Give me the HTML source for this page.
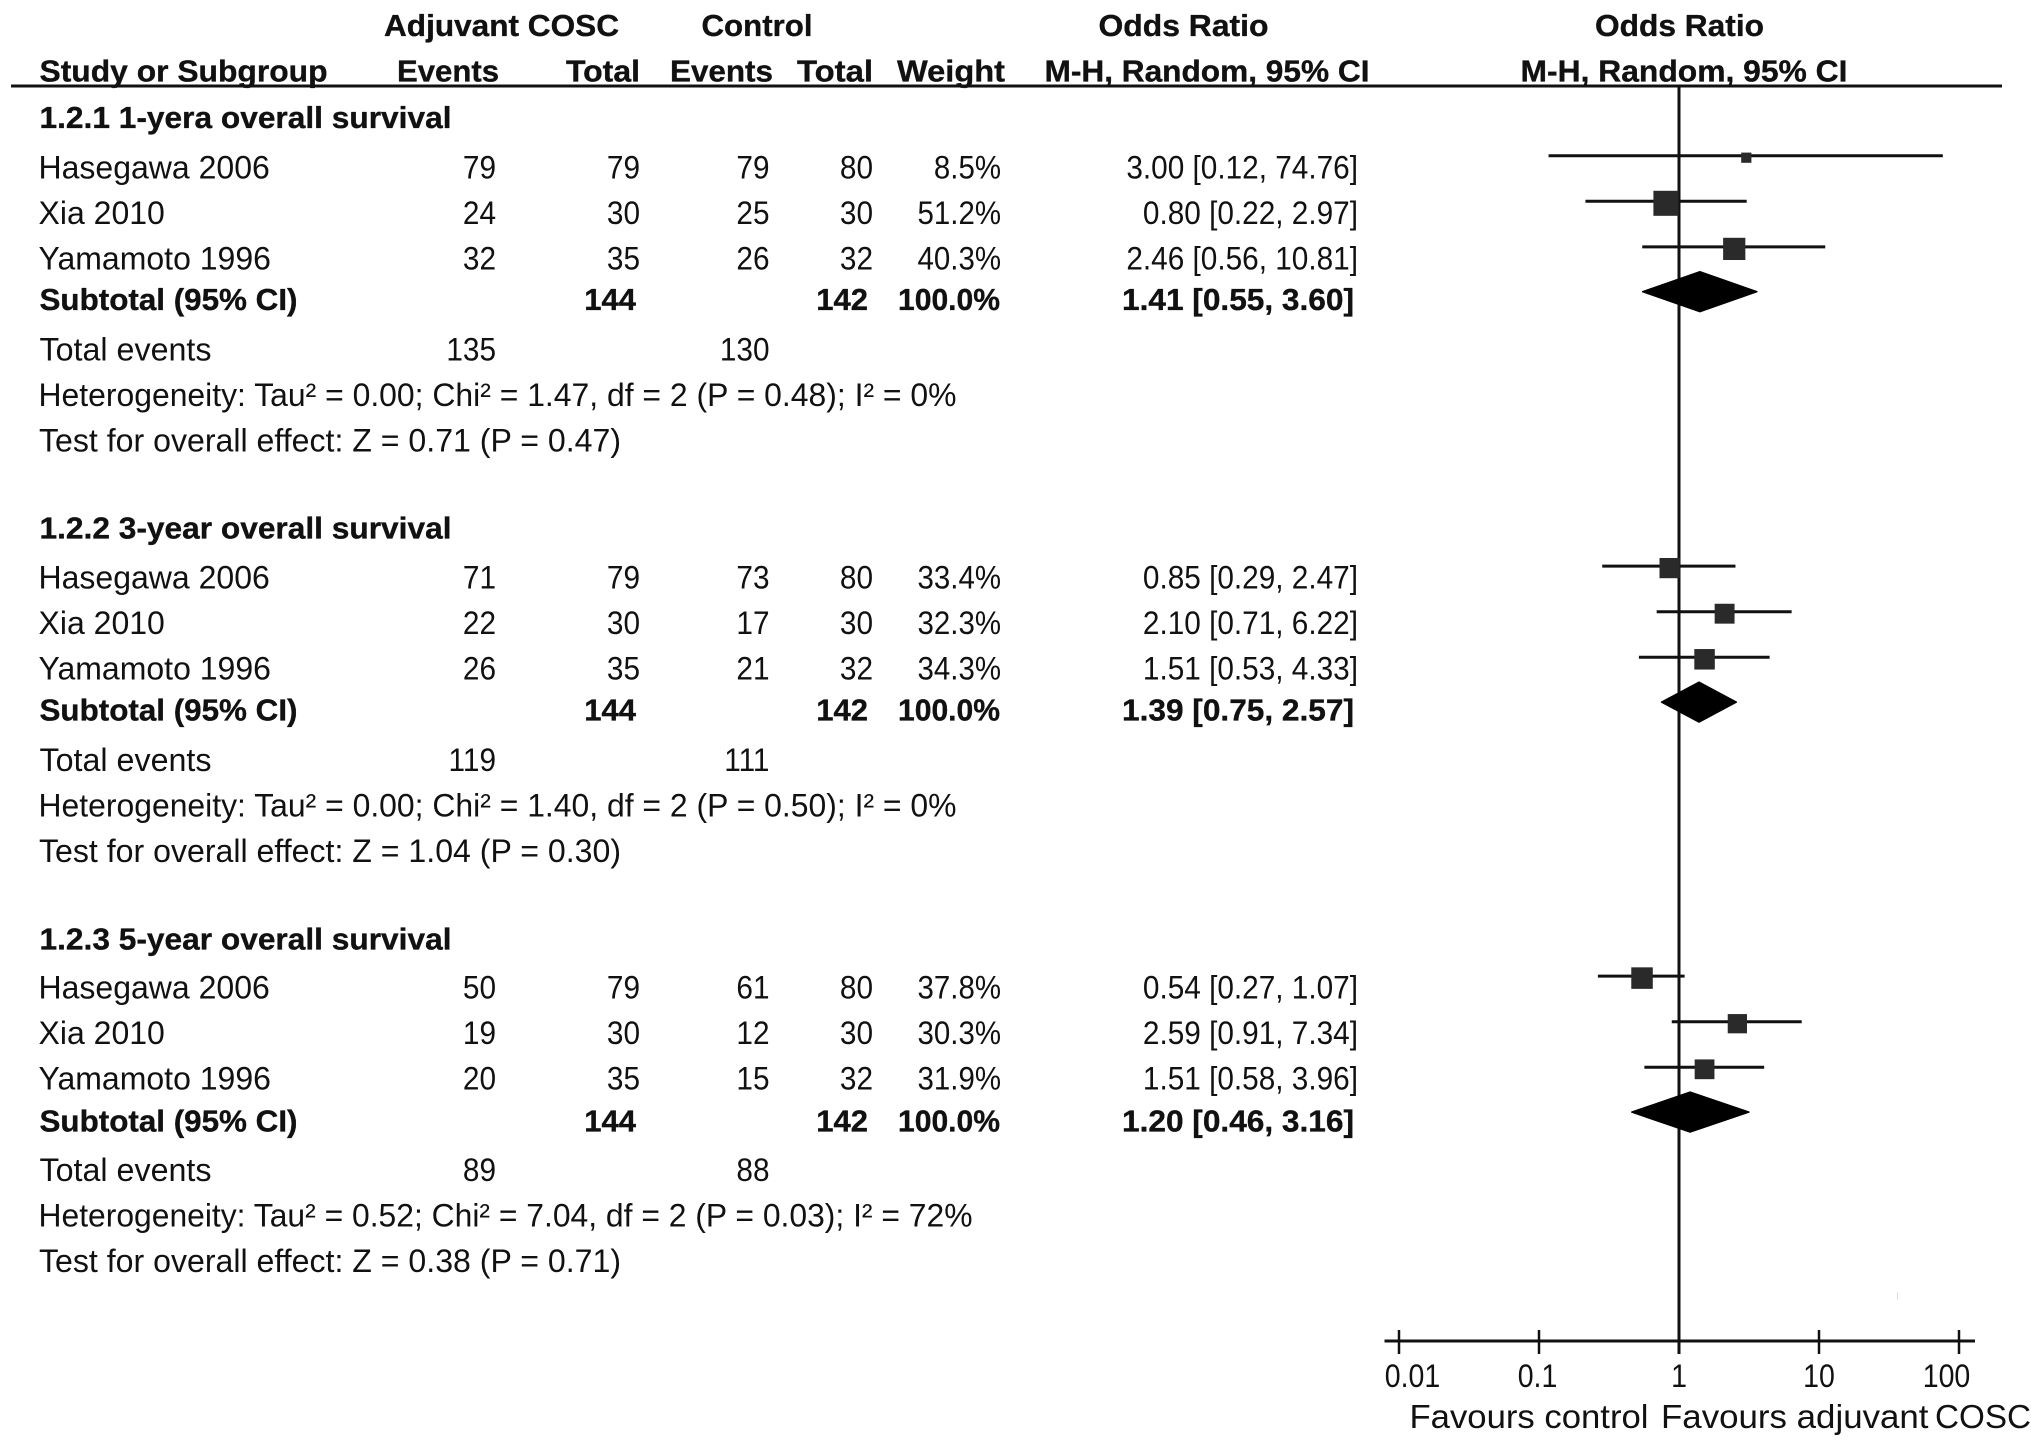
<!DOCTYPE html>
<html lang="en">
<head>
<meta charset="utf-8">
<title>Forest plot: adjuvant COSC vs control</title>
<style>
html,body{margin:0;padding:0;background:#fff;width:2031px;height:1447px;overflow:hidden}
svg{display:block}
text{font-family:"Liberation Sans",Arial,sans-serif;fill:#111}
.b{font-weight:700;stroke:#111;stroke-width:0.35px}
</style>
</head>
<body>
<svg id="forest-plot" xmlns="http://www.w3.org/2000/svg" width="2031" height="1447" viewBox="0 0 2031 1447"></svg>
<script>
const groupTitles = ['1.2.1 1-yera overall survival', '1.2.2 3-year overall survival', '1.2.3 5-year overall survival'];
const studies = ['Hasegawa 2006', 'Xia 2010', 'Yamamoto 1996'];
const treatEvents = [[79, 24, 32], [71, 22, 26], [50, 19, 20]];
const treatTotals = [[79, 30, 35], [79, 30, 35], [79, 30, 35]];
const ctrlEvents = [[79, 25, 26], [73, 17, 21], [61, 12, 15]];
const ctrlTotals = [[80, 30, 32], [80, 30, 32], [80, 30, 32]];
const weights = [[8.5, 51.2, 40.3], [33.4, 32.3, 34.3], [37.8, 30.3, 31.9]];
const oddsRatios = [[3.00, 0.80, 2.46], [0.85, 2.10, 1.51], [0.54, 2.59, 1.51]];
const ciLower = [[0.12, 0.22, 0.56], [0.29, 0.71, 0.53], [0.27, 0.91, 0.58]];
const ciUpper = [[74.76, 2.97, 10.81], [2.47, 6.22, 4.33], [1.07, 7.34, 3.96]];
const subtotalTreat = [144, 144, 144];
const subtotalCtrl = [142, 142, 142];
const subtotalOR = [1.41, 1.39, 1.20];
const subtotalLower = [0.55, 0.75, 0.46];
const subtotalUpper = [3.60, 2.57, 3.16];
const totalEventsTreat = [135, 119, 89];
const totalEventsCtrl = [130, 111, 88];
const heterogeneity = [
  'Heterogeneity: Tau² = 0.00; Chi² = 1.47, df = 2 (P = 0.48); I² = 0%',
  'Heterogeneity: Tau² = 0.00; Chi² = 1.40, df = 2 (P = 0.50); I² = 0%',
  'Heterogeneity: Tau² = 0.52; Chi² = 7.04, df = 2 (P = 0.03); I² = 72%'
];
const overallEffect = [
  'Test for overall effect: Z = 0.71 (P = 0.47)',
  'Test for overall effect: Z = 1.04 (P = 0.30)',
  'Test for overall effect: Z = 0.38 (P = 0.71)'
];
const axisTicks = [0.01, 0.1, 1, 10, 100];
const axisTickLabels = ['0.01', '0.1', '1', '10', '100'];

const svg = document.getElementById('forest-plot');
const NS = 'http://www.w3.org/2000/svg';
const xScale = v => 1679 + 140 * Math.log10(v);
const f2 = v => v.toFixed(2);

function mark(tag, name, attrs) {
  const el = document.createElementNS(NS, tag);
  
  
  for (const k in attrs) el.setAttribute(k, attrs[k]);
  svg.appendChild(el);
  return el;
}
function label(str, name, x, y, o) {
  o = o || {};
  const el = document.createElementNS(NS, 'text');
  
  
  el.setAttribute('y', y);
  el.setAttribute('font-size', o.size || (o.bold ? 31 : 32));
  if (o.bold) el.setAttribute('class', 'b');
  el.textContent = str;
  svg.appendChild(el);
  const natural = el.getComputedTextLength();
  const w = o.w || natural * (o.sq || 1);
  el.setAttribute('textLength', w);
  el.setAttribute('lengthAdjust', 'spacingAndGlyphs');
  el.setAttribute('x', o.right ? x - w : (o.center ? x - w / 2 : x));
  return el;
}

/* column headers */
label('Adjuvant COSC', 'treatment-header', 384, 36, {bold: 1, w: 235});
label('Control', 'control-header', 701.5, 36, {bold: 1, w: 111});
label('Odds Ratio', 'odds-ratio-header', 1098.5, 36, {bold: 1, w: 170});
label('Odds Ratio', 'plot-odds-ratio-header', 1595, 36, {bold: 1, w: 169});
label('Study or Subgroup', 'study-column-header', 39.5, 81.5, {bold: 1, w: 288});
label('Events', 'treatment-events-header', 397, 81.5, {bold: 1, w: 102});
label('Total', 'treatment-total-header', 566, 81.5, {bold: 1, w: 74});
label('Events', 'control-events-header', 670, 81.5, {bold: 1, w: 103});
label('Total', 'control-total-header', 797, 81.5, {bold: 1, w: 76});
label('Weight', 'weight-header', 897, 81.5, {bold: 1, w: 108});
label('M-H, Random, 95%  CI', 'method-header', 1044.5, 81.5, {bold: 1, w: 325});
label('M-H, Random, 95%  CI', 'plot-method-header', 1520.5, 81.5, {bold: 1, w: 327});

mark('line', 'header-rule', {x1: 11, x2: 2002, y1: 86, y2: 86, stroke: '#111', 'stroke-width': 3});

/* no-effect line */
mark('line', 'no-effect-line', {x1: xScale(1), x2: xScale(1), y1: 86, y2: 1354, stroke: '#111', 'stroke-width': 3});

/* groups */
groupTitles.forEach((title, g) => {
  const dy = [0, 410.4, 820.4][g];
  const boldNudge = g === 2 ? 1 : 0;
  label(title, 'group-title', 39.5, 128 + dy + boldNudge, {bold: 1, w: 412});

  studies.forEach((study, i) => {
    const base = 178.3 + 45.5 * i + dy;
    label(study, 'study-name', 38.5, base, {sq: 1});
    label(String(treatEvents[g][i]), 'treatment-events', 496, base, {right: 1, sq: 0.93});
    label(String(treatTotals[g][i]), 'treatment-total', 640, base, {right: 1, sq: 0.93});
    label(String(ctrlEvents[g][i]), 'control-events', 769.5, base, {right: 1, sq: 0.93});
    label(String(ctrlTotals[g][i]), 'control-total', 873, base, {right: 1, sq: 0.93});
    label(weights[g][i].toFixed(1) + '%', 'study-weight', 1001, base, {right: 1, sq: 0.92});
    label(f2(oddsRatios[g][i]) + ' [' + f2(ciLower[g][i]) + ', ' + f2(ciUpper[g][i]) + ']', 'odds-ratio-ci', 1358, base, {right: 1, sq: 0.93});

    const lineY = 155.7 + 45.6 * i + dy;
    mark('line', 'study-ci-line', {x1: xScale(ciLower[g][i]), x2: xScale(ciUpper[g][i]), y1: lineY, y2: lineY, stroke: '#111', 'stroke-width': 3, 'stroke-linecap': 'square'});
    const size = 3.5 * Math.sqrt(weights[g][i]);
    mark('rect', 'study-square', {x: xScale(oddsRatios[g][i]) - size / 2 + 0.5, y: lineY + 2 - size / 2, width: size, height: size, fill: '#2a2a2a'});
  });

  const subBase = 310 + dy + boldNudge;
  label('Subtotal (95%  CI)', 'subtotal-label', 39.5, subBase, {bold: 1, w: 258});
  label(String(subtotalTreat[g]), 'subtotal-treatment-total', 636, subBase, {bold: 1, right: 1});
  label(String(subtotalCtrl[g]), 'subtotal-control-total', 868, subBase, {bold: 1, right: 1});
  label('100.0%', 'subtotal-weight', 1000, subBase, {bold: 1, right: 1, w: 102});
  label(f2(subtotalOR[g]) + ' [' + f2(subtotalLower[g]) + ', ' + f2(subtotalUpper[g]) + ']', 'subtotal-odds-ratio-ci', 1354, subBase, {bold: 1, right: 1, w: 232});

  const cy = 291.7 + dy;
  const xl = xScale(subtotalLower[g]), xr = xScale(subtotalUpper[g]), xc = xScale(subtotalOR[g]);
  mark('polygon', 'subtotal-diamond', {points: xl + ',' + cy + ' ' + xc + ',' + (cy - 20) + ' ' + xr + ',' + cy + ' ' + xc + ',' + (cy + 20), fill: '#000', stroke: '#000', 'stroke-width': 1.5, 'stroke-linejoin': 'round'});

  const evBase = 360.7 + dy;
  label('Total events', 'total-events-label', 39.5, evBase, {w: 172});
  label(String(totalEventsTreat[g]), 'total-events-treatment', 496, evBase, {right: 1, sq: 0.93});
  label(String(totalEventsCtrl[g]), 'total-events-control', 769.5, evBase, {right: 1, sq: 0.93});
  label(heterogeneity[g], 'heterogeneity-text', 38.5, 406 + dy, {w: g === 2 ? 934 : 918});
  label(overallEffect[g], 'overall-effect-text', 39, 451.7 + dy, {w: 582});
});

/* x axis */
mark('line', 'x-axis-line', {x1: 1384.5, x2: 1975, y1: 1341, y2: 1341, stroke: '#111', 'stroke-width': 3});
axisTicks.forEach((t, i) => {
  const x = xScale(t);
  mark('line', 'x-axis-tick', {x1: x, x2: x, y1: 1330, y2: 1354, stroke: '#111', 'stroke-width': 2.5});
  /* the end labels sit inside the axis span in the reference */
  const labelShift = i === 0 ? 13.5 : (i === axisTicks.length - 1 ? -12.5 : (i === 1 ? -1.5 : 0));
  label(axisTickLabels[i], 'x-axis-tick-label', x + labelShift, 1387, {center: 1, sq: 0.89});
});
label('Favours control', 'favours-control-label', 1409.5, 1428, {size: 33, w: 239});
label('Favours adjuvant', 'favours-treatment-label', 1661, 1428, {size: 33, w: 267.5});
label('COSC', 'favours-treatment-label-end', 1935, 1428, {size: 33, w: 96});
mark('line', 'image-speck', {x1: 1897.5, x2: 1897.5, y1: 1292, y2: 1300, stroke: '#ddd', 'stroke-width': 1});
</script>
</body>
</html>
